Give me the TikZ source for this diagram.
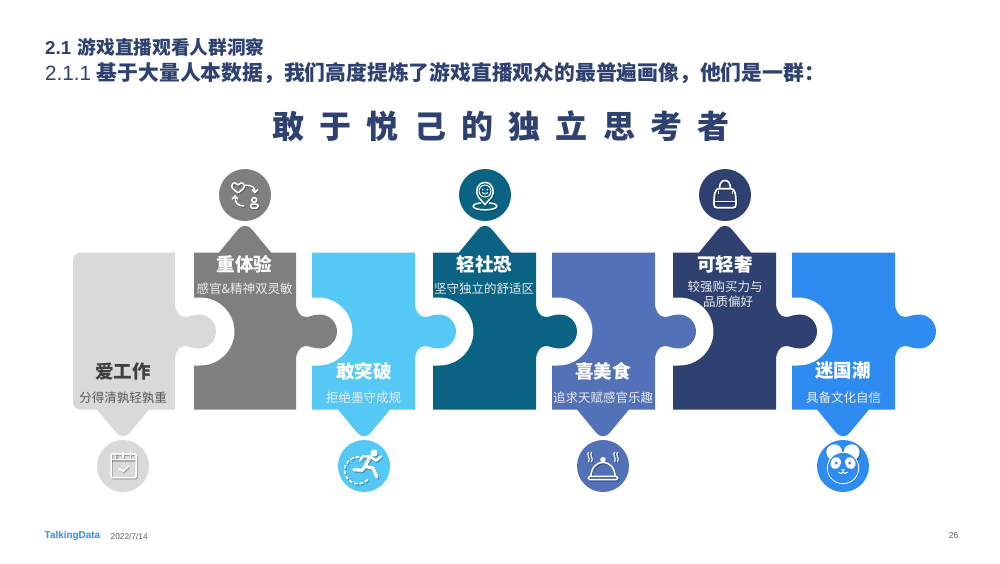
\documentclass[tikz,border=0pt]{standalone}
\usepackage{fontspec}
\setmainfont{Liberation Sans}
\newfontfamily\cjk{Noto Sans CJK SC}
\definecolor{navy}{HTML}{2E4170}
\definecolor{pa}{HTML}{D9D9D9}
\definecolor{pb}{HTML}{7F7F7F}
\definecolor{pc}{HTML}{55C8F6}
\definecolor{pd}{HTML}{0B6384}
\definecolor{pe}{HTML}{5371B6}
\definecolor{pf}{HTML}{2E4170}
\definecolor{pg}{HTML}{2E8BEF}
\newcommand\knobpart[1]{-- (#1,303) .. controls (#1,311) and (#1+4,317) .. (#1+10,317) .. controls (#1+14,317) and (#1+17,314.5) .. (#1+24,314.5) .. controls (#1+33.4,314.5) and (#1+41,322.1) .. (#1+41,331.5) .. controls (#1+41,340.9) and (#1+33.4,348.5) .. (#1+24,348.5) .. controls (#1+17,348.5) and (#1+14,346) .. (#1+10,346) .. controls (#1+4,346) and (#1,352) .. (#1,360)}
\newcommand\socketpart[1]{-- (#1,365.5) -- (#1+6.5,365.5) .. controls (#1+25.3,365.5) and (#1+40.5,350.3) .. (#1+40.5,331.5) .. controls (#1+40.5,312.7) and (#1+25.3,297.5) .. (#1+6.5,297.5) -- (#1,297.5)}
\newcommand\bottab[1]{-- (#1+26,409.5) -- (#1+7,432.5) .. controls (#1+3,437.5) and (#1-3,437.5) .. (#1-7,432.5) -- (#1-26,409.5)}
\newcommand\toptab[1]{-- (#1-26,252.5) -- (#1-7,229.5) .. controls (#1-3,224.5) and (#1+3,224.5) .. (#1+7,229.5) -- (#1+26,252.5)}
\newcommand\toppiece[4]{\path[fill=#4] (#1,252.5) \toptab{#3} -- (#2,252.5) \knobpart{#2} -- (#2,409.5) -- (#1,409.5) \socketpart{#1} -- cycle;}
\newcommand\botpiece[4]{\path[fill=#4] (#1,252.5) -- (#2,252.5) \knobpart{#2} -- (#2,409.5) \bottab{#3} -- (#1,409.5) \socketpart{#1} -- cycle;}
% icon bodies: local origin = disc centre
\newcommand\icCalendar{
  \path[icl,rounded corners=1pt] (-12,-12) rectangle (13,11.5);
  \path[icl] (-12,-6.3) -- (13,-6.3);
  \path[icl] (-7.3,-14) -- (-7.3,-8) (0,-14) -- (0,-8) (7.3,-14) -- (7.3,-8);
  \path[icl] (-4,2.7) -- (0,5.3) -- (5.3,0);
}
\newcommand\icSwap{
  \path[icl] (-7,-2.2) .. controls (-11,-5) and (-14,-7) .. (-13,-10) .. controls (-12,-13) and (-8.5,-12.5) .. (-7,-10.2) .. controls (-5.5,-12.5) and (-2,-13) .. (-1,-10) .. controls (0,-7) and (-3,-5) .. (-7,-2.2);
  \path[icl] (0,-9.5) .. controls (7,-10) and (10,-8) .. (10,-3);
  \path[icl] (7.2,-5.5) -- (10,-2.4) -- (12.8,-5.5);
  \path[icl] (-1,11) .. controls (-7,11) and (-10,8) .. (-10,1.5);
  \path[icl] (-12.8,4) -- (-10,1) -- (-7.2,4);
  \path[icl] (9.2,5) circle[radius=2.4pt];
  \path[icl,rounded corners=1.5pt] (5.5,13) rectangle (13,9);
}
\newcommand\icRun{
  \path[icf] (10,-13) circle[radius=3.6pt];
  \path[icl,line width=3.2pt,line cap=round,line join=round] (6,-9.5) -- (1,0.5) -- (9,2) -- (13,11);
  \path[icl,line width=3.2pt,line cap=round,line join=round] (1,0.5) -- (-2,4.2) -- (-10,3.7);
  \path[icl,line width=2.4pt,line cap=round,line join=round] (6,-9.5) -- (-1.5,-9.5) -- (-4,-5.5);
  \path[icl,line width=2.4pt,line cap=round,line join=round] (6,-9.5) -- (12,-5.5) -- (17,-9.5);
  \path[icl,line width=1.6pt,dash pattern=on 3.6pt off 2pt] (-6,4.3) ++(85:13.4pt) arc[start angle=85,end angle=325,radius=13.4pt];
}
\newcommand\icPin{
  \path[icl] (-6.5,2.2) .. controls (-10.5,-3) and (-8,-12.5) .. (0,-12.5) .. controls (8,-12.5) and (10.5,-3) .. (6.5,2.2) -- (0,9.5) -- cycle;
  \path[icl,line width=1pt] (0,-4) circle[radius=6pt];
  \path[icf] (-2.4,-5.3) circle[radius=.9pt] (2.4,-5.3) circle[radius=.9pt];
  \path[icl,line width=.9pt] (-3,-2.5) .. controls (-1.5,-0.5) and (1.5,-0.5) .. (3,-2.5);
  \path[icl] (-4,8) .. controls (-15,8.5) and (-15,14.8) .. (0,14.8) .. controls (15,14.8) and (15,8.5) .. (4,8);
}
\newcommand\icDish{
  \path[icf] (0,-6.3) circle[radius=2.8pt];
  \path[icl] (-12,10.3) .. controls (-12,2) and (-6.6,-3.7) .. (0,-3.7) .. controls (6.6,-3.7) and (12,2) .. (12,10.3);
  \path[icl,rounded corners=1.5pt] (-14.7,10.3) rectangle (14.7,13.7);
  \path[icl,line width=1.1pt] (-11.5,-14) .. controls (-14,-11) and (-9,-8) .. (-11.5,-4);
  \path[icl,line width=1.1pt] (-14.5,-14) .. controls (-17,-11) and (-12,-8) .. (-14.5,-4);
  \path[icl,line width=1.1pt] (11.5,-14) .. controls (9,-11) and (14,-8) .. (11.5,-4);
  \path[icl,line width=1.1pt] (14.5,-14) .. controls (12,-11) and (17,-8) .. (14.5,-4);
}
\newcommand\icBag{
  \path[icl,line width=1.7pt] (-11,9) .. controls (-11,-1) and (-10,-6.3) .. (-6,-6.3) -- (6,-6.3) .. controls (10,-6.3) and (11,-1) .. (11,9) .. controls (11,12) and (10,12.7) .. (8,12.7) -- (-8,12.7) .. controls (-10,12.7) and (-11,12) .. (-11,9) -- cycle;
  \path[icl,line width=1.7pt] (-5.5,-6.3) .. controls (-5.5,-12) and (-3,-14.5) .. (0,-14.5) .. controls (3,-14.5) and (5.5,-12) .. (5.5,-6.3);
  \path[icl] (-10.8,6.5) -- (10.8,6.5);
  \path[icl,line width=.8pt] (-7,-4) -- (-7,-1) (7,-4) -- (7,-1);
}
\newcommand\icPanda{
  \path[icf] (-8.7,-13.7) circle[radius=8pt] (8.7,-13.7) circle[radius=8pt];
  \path[icface] (0,2) circle[radius=15.7pt];
  \path[icf] (-7.3,-3) ellipse[x radius=5pt,y radius=6.2pt,rotate=-25];
  \path[icf] (7.3,-3) ellipse[x radius=5pt,y radius=6.2pt,rotate=25];
  \path[icpupil] (-6.8,-3) circle[radius=1.6pt] (6.8,-3) circle[radius=1.6pt];
  \path[icf] (-1.8,3.4) -- (1.8,3.4) -- (0,5.6) -- cycle;
  \path[icl,line width=1pt] (-4.5,6) .. controls (-3,8) and (-1,8) .. (0,6) .. controls (1,8) and (3,8) .. (4.5,6);
}
\newcommand\iconat[3]{%
  \begin{scope}[shift={(#1+1.2,#2+1.4)},
     icl/.style={draw=black,opacity=.22,line width=1.5pt},
     icf/.style={fill=black,opacity=.22},
     icface/.style={draw=none},icpupil/.style={draw=none}]
    #3
  \end{scope}
  \begin{scope}[shift={(#1,#2)},
     icl/.style={draw=white,line width=1.5pt},
     icf/.style={fill=white},
     icface/.style={draw=white,line width=.8pt,fill=pg},
     icpupil/.style={fill=pg}]
    #3
  \end{scope}}
\tikzset{
  disc/.style={circle,minimum size=52pt,inner sep=0pt,draw=none},
  ttl/.style={font=\cjk\bfseries\fontsize{18.5}{20}\selectfont,text=white,inner sep=0pt},
  sub/.style={font=\cjk\fontsize{12.5}{15.5}\selectfont,text=white!92!black,inner sep=0pt,align=center},
  head/.style={text=navy,anchor=west,inner sep=0pt},
}
\begin{document}
\begin{tikzpicture}[x=1pt,y=-1pt]
\useasboundingbox[fill=white] (0,0) rectangle (1000,563);
\node[head,font=\fontsize{18.7}{22}\selectfont] (h1) at (45,47) {\bfseries\spaceskip=6.5pt 2.1 \cjk 游戏直播观看人群洞察};
\node[head,font=\fontsize{20.7}{22}\selectfont] (h2) at (45,73.5) {2.1.1 {\cjk\bfseries\fontsize{20.8}{22}\selectfont 基于大量人本数据，我们高度提炼了游戏直播观众的最普遍画像，他们是一群：}};
\node[font=\cjk\bfseries\fontsize{32}{36}\selectfont,text=navy,inner sep=0pt] (title) at (501,126) {\spaceskip=15.3pt 敢 于 悦 己 的 独 立 思 考 者};

% puzzle pieces
\path[fill=pa] (81,252.5) -- (175,252.5) \knobpart{175} -- (175,409.5) \bottab{123} -- (81,409.5) .. controls (76,409.5) and (73,406.5) .. (73,401.5) -- (73,260.5) .. controls (73,255.5) and (76,252.5) .. (81,252.5) -- cycle;
\toppiece{194}{296}{245}{pb}
\botpiece{312}{415}{364}{pc}
\toppiece{433}{536}{485}{pd}
\botpiece{552}{655}{603}{pe}
\toppiece{673}{776}{725}{pf}
\botpiece{792}{895}{843}{pg}

% discs
\node[disc,fill=pa] (d1) at (123,466) {};
\node[disc,fill=pb] (d2) at (245,195) {};
\node[disc,fill=pc] (d3) at (364,466) {};
\node[disc,fill=pd] (d4) at (485,195) {};
\node[disc,fill=pe] (d5) at (603,466) {};
\node[disc,fill=pf] (d6) at (725,195) {};
\node[disc,fill=pg] (d7) at (843,466) {};

% icons
\iconat{123}{466}{\icCalendar}
\iconat{245}{195}{\icSwap}
\iconat{364}{466}{\icRun}
\iconat{485}{195}{\icPin}
\iconat{603}{466}{\icDish}
\iconat{725}{195}{\icBag}
\iconat{843}{466}{\icPanda}

% labels
\node[ttl,text=black!75] (t1) at (123,371) {爱工作};
\node[sub,text=black!65] (s1) at (123,398) {分得清孰轻孰重};
\node[ttl] (t2) at (244.5,264) {重体验};
\node[sub] (s2) at (244.5,289) {感官\&精神双灵敏};
\node[ttl] (t3) at (364,371) {敢突破};
\node[sub] (s3) at (363.5,398) {拒绝墨守成规};
\node[ttl] (t4) at (484.5,264) {轻社恐};
\node[sub] (s4) at (484,289) {坚守独立的舒适区};
\node[ttl] (t5) at (603,371) {喜美食};
\node[sub] (s5) at (603,398) {追求天赋感官乐趣};
\node[ttl] (t6) at (725,264) {可轻奢};
\node[sub] (s6) at (725,294) {较强购买力与\\\hspace*{6pt}品质偏好};
\node[ttl] (t7) at (843,371) {迷国潮};
\node[sub] (s7) at (843.5,398) {具备文化自信};

% footer
\node[font=\bfseries\fontsize{9.9}{10}\selectfont,text=pg,anchor=west,inner sep=0pt] (logo) at (44.5,536) {TalkingData};
\node[font=\fontsize{8.3}{9}\selectfont,text=black!65,anchor=west,inner sep=0pt] (date) at (110.5,537) {2022/7/14};
\node[font=\fontsize{8.6}{10}\selectfont,text=black!65,anchor=east,inner sep=0pt] (page) at (958.5,536) {26};
\end{tikzpicture}
\end{document}
